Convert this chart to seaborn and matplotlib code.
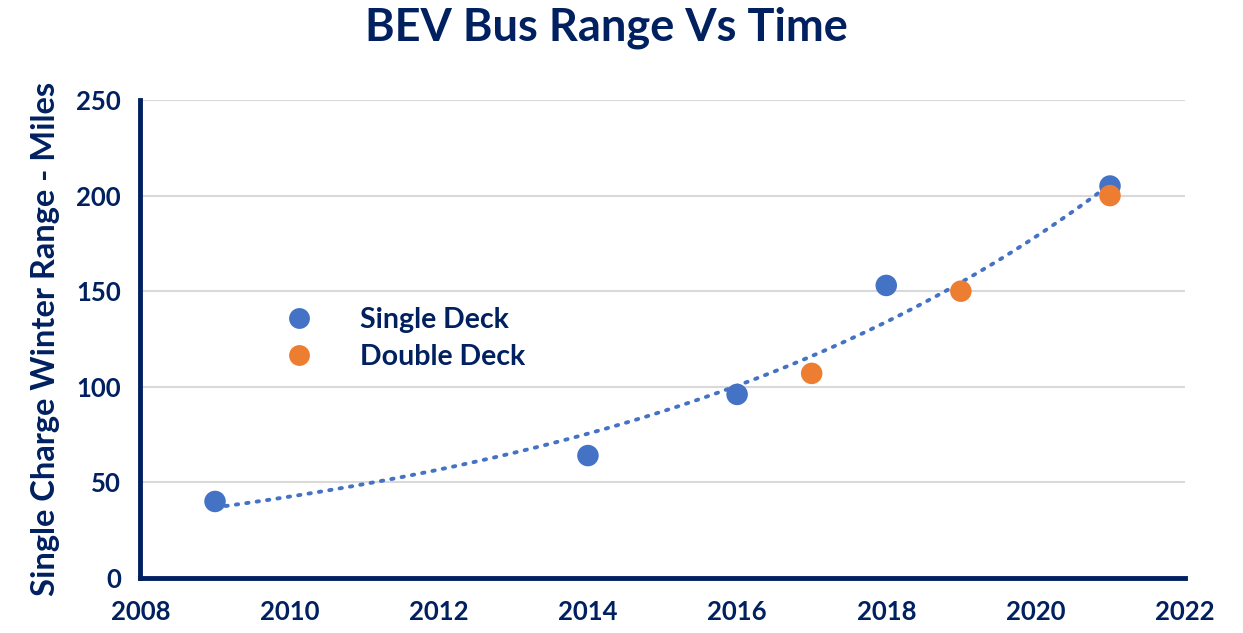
import numpy as np
import pandas as pd
import matplotlib
matplotlib.use("Agg")
import matplotlib.pyplot as plt
import seaborn as sns
from matplotlib.lines import Line2D

# Data
single_years = [2009, 2014, 2016, 2018, 2021]
single_range = [40, 64, 96, 153, 205]
double_years = [2017, 2019, 2021]
double_range = [107, 150, 200]
series_names = ["Single Deck", "Double Deck"]
x_ticks = [2008, 2010, 2012, 2014, 2016, 2018, 2020, 2022]
y_ticks = [0, 50, 100, 150, 200, 250]

NAVY = "#002060"
BLUE = "#4472C4"
ORANGE = "#ED7D31"

sns.set_theme(style="white")
plt.rcParams['font.family'] = ['Lato', 'DejaVu Sans']
plt.rcParams['font.weight'] = 'bold'

df = pd.DataFrame({
    "Year": single_years + double_years,
    "Range": single_range + double_range,
    "Type": [series_names[0]] * len(single_years) + [series_names[1]] * len(double_years),
})

fig = plt.figure(figsize=(12.43, 6.33), dpi=100)
ax = fig.add_axes([0.113, 0.087, 0.84, 0.755])

# Exponential trendline fitted to single deck data
b, a = np.polyfit(single_years, np.log(single_range), 1)
tx = np.linspace(min(single_years), max(single_years), 200)
ty = np.exp(a + b * tx)
ax.plot(tx, ty, color=BLUE, lw=2.8, linestyle=(0, (0.6, 2.1)),
        dash_capstyle="round", zorder=2)

sns.scatterplot(data=df, x="Year", y="Range", hue="Type",
                palette=[BLUE, ORANGE], s=240, edgecolor="none",
                ax=ax, legend=False, zorder=3)

ax.set_xlim(2008, 2022)
ax.set_ylim(0, 250)
ax.set_xticks(x_ticks)
ax.set_yticks(y_ticks)
ax.yaxis.grid(True, color="#D9D9D9", lw=1.5)
ax.xaxis.grid(False)
ax.set_axisbelow(True)

for s in ["top", "right"]:
    ax.spines[s].set_visible(False)
for s in ["left", "bottom"]:
    ax.spines[s].set_color(NAVY)
    ax.spines[s].set_linewidth(3.5)

ax.tick_params(axis="both", direction="out", length=6, width=3, color=NAVY,
               labelcolor=NAVY, labelsize=18.5)
ax.tick_params(axis="x", pad=10)
ax.tick_params(axis="y", pad=8)
for lab in ax.get_xticklabels() + ax.get_yticklabels():
    lab.set_fontweight("bold")

ax.set_xlabel("")
ax.set_ylabel("Single Charge Winter Range - Miles", color=NAVY, fontsize=23.5,
              fontweight="bold", labelpad=12)

fig.suptitle("BEV Bus Range Vs Time", x=0.488, y=0.99, color=NAVY,
             fontsize=32.5, fontweight="bold")

handles = [Line2D([], [], marker="o", ls="none", markersize=15,
                  markerfacecolor=c, markeredgecolor="none") for c in [BLUE, ORANGE]]
leg = ax.legend(handles, series_names, loc="upper left",
                bbox_to_anchor=(0.10, 0.62), frameon=False, handletextpad=1.15,
                labelspacing=0.38, prop={"size": 20.5, "weight": "bold"})
for t in leg.get_texts():
    t.set_color(NAVY)

fig.savefig("out.png", dpi=100)
